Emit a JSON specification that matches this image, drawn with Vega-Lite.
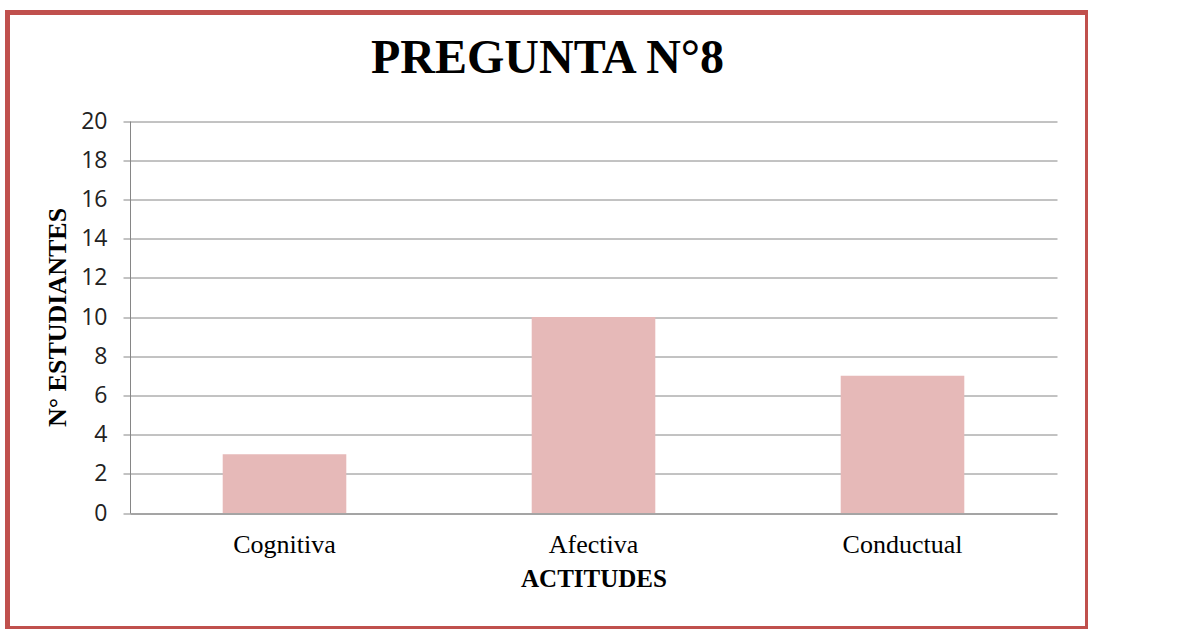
{
  "$schema": "https://vega.github.io/schema/vega-lite/v6.json",
  "width": 1080,
  "height": 616,
  "autosize": {"type": "none"},
  "padding": {"left": 7.5, "top": 12.5, "right": 0, "bottom": 0},
  "background": "white",
  "config": {
    "view": {"stroke": "#C0504D", "strokeWidth": 5, "fill": "white"}
  },
  "title": {
    "text": "PREGUNTA N°8",
    "font": "Liberation Serif",
    "fontSize": 48,
    "fontWeight": "bold",
    "color": "#000000",
    "anchor": "middle",
    "baseline": "alphabetic",
    "offset": -108
  },
  "data": {
    "values": [
      {"actitud": "Cognitiva", "estudiantes": 3},
      {"actitud": "Afectiva", "estudiantes": 10},
      {"actitud": "Conductual", "estudiantes": 7}
    ]
  },
  "mark": {"type": "bar", "color": "#E6B9B8"},
  "encoding": {
    "x": {
      "field": "actitud",
      "type": "nominal",
      "sort": null,
      "scale": {"range": [122.5, 1049.5], "paddingInner": 0.6, "paddingOuter": 0.3},
      "axis": {
        "title": "ACTITUDES",
        "titleFont": "Liberation Serif",
        "titleFontSize": 25,
        "titleFontWeight": "bold",
        "titleColor": "#000000",
        "titlePadding": 9,
        "labelFont": "Liberation Serif",
        "labelFontSize": 26,
        "labelColor": "#000000",
        "labelAngle": 0,
        "labelPadding": 18,
        "ticks": false,
        "domainColor": "#868686",
        "domainWidth": 1,
        "offset": -115,
        "grid": false
      }
    },
    "y": {
      "field": "estudiantes",
      "type": "quantitative",
      "scale": {"domain": [0, 20], "range": [500.5, 108.5], "nice": false},
      "axis": {
        "title": "N° ESTUDIANTES",
        "titleFont": "Liberation Serif",
        "titleFontSize": 26,
        "titleFontWeight": "bold",
        "titleColor": "#000000",
        "titlePadding": 10,
        "values": [0, 2, 4, 6, 8, 10, 12, 14, 16, 18, 20],
        "labelFont": "Open Sans",
        "labelFontSize": 23,
        "labelColor": "#222222",
        "labelPadding": 16,
        "tickColor": "#868686",
        "tickSize": 7,
        "domainColor": "#868686",
        "gridColor": "#868686",
        "gridWidth": 1,
        "offset": -122.5
      }
    }
  }
}
